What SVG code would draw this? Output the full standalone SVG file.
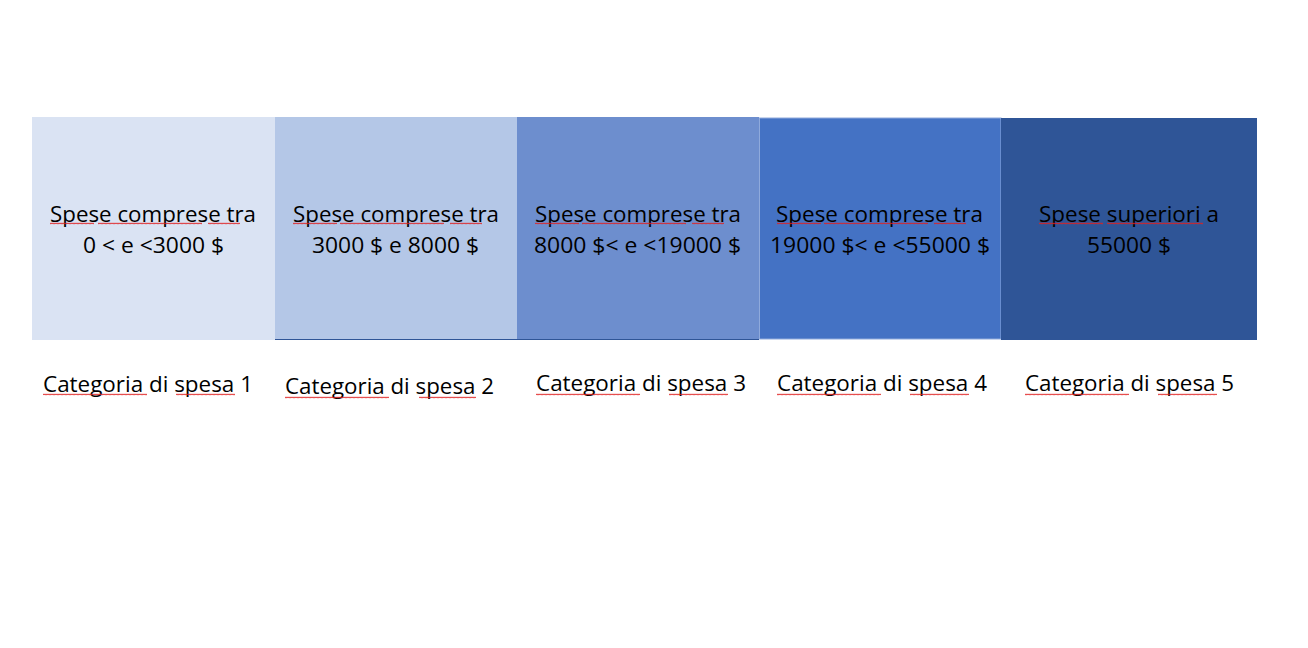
<svg xmlns="http://www.w3.org/2000/svg" width="1308" height="648" viewBox="0 0 1308 648">
  <style>
    .t { font-family: "Open Sans", "Noto Sans", "Liberation Sans", sans-serif; font-size: 22px; fill: #000; }
    .sq { fill: url(#wave); }
  </style>
  <defs>
    <pattern id="wave" patternUnits="userSpaceOnUse" x="0" y="0" width="4" height="3">
      <polyline points="0,2.2 1,0.8 2,2.2 3,0.8 4,2.2" fill="none" stroke="#e02020" stroke-width="0.8"/>
    </pattern>
  </defs>
  <rect width="1308" height="648" fill="#ffffff"/>

  <g id="box1">
    <rect x="32" y="117" width="243" height="223" fill="#DAE3F3"/>
    <text class="t" x="50" y="222" textLength="206" lengthAdjust="spacingAndGlyphs">Spese comprese tra</text>
    <text class="t" x="83" y="253" textLength="141" lengthAdjust="spacingAndGlyphs">0 &lt; e &lt;3000 $</text>
    <rect class="sq" x="50" y="222" width="44" height="3"/>
    <rect class="sq" x="98" y="222" width="104" height="3"/>
    <rect class="sq" x="208" y="222" width="32" height="3"/>
  </g>

  <g id="box2">
    <rect x="275" y="117" width="242" height="222" fill="#B4C7E7"/>
    <text class="t" x="293" y="222" textLength="206" lengthAdjust="spacingAndGlyphs">Spese comprese tra</text>
    <text class="t" x="312" y="253" textLength="167" lengthAdjust="spacingAndGlyphs">3000 $ e 8000 $</text>
    <rect class="sq" x="293" y="222" width="44" height="3"/>
    <rect class="sq" x="340" y="222" width="104" height="3"/>
    <rect class="sq" x="450" y="222" width="32" height="3"/>
  </g>

  <g id="box3">
    <rect x="517" y="117" width="242" height="222" fill="#6D8ECE"/>
    <text class="t" x="535" y="222" textLength="206" lengthAdjust="spacingAndGlyphs">Spese comprese tra</text>
    <text class="t" x="534" y="253" textLength="207" lengthAdjust="spacingAndGlyphs">8000 $&lt; e &lt;19000 $</text>
    <rect class="sq" x="535" y="222" width="44" height="3"/>
    <rect class="sq" x="582" y="222" width="104" height="3"/>
    <rect class="sq" x="692" y="222" width="32" height="3"/>
  </g>

  <line x1="275" y1="339.5" x2="759" y2="339.5" stroke="#2F5597" stroke-width="1.2"/>

  <g id="box4">
    <rect x="759.5" y="118" width="241.5" height="221" fill="#4472C4" stroke="#8FAADC" stroke-width="1"/>
    <text class="t" x="776" y="222" textLength="207" lengthAdjust="spacingAndGlyphs">Spese comprese tra</text>
    <text class="t" x="770" y="253" textLength="220" lengthAdjust="spacingAndGlyphs">19000 $&lt; e &lt;55000 $</text>
    <rect class="sq" x="777" y="222" width="44" height="3"/>
    <rect class="sq" x="824" y="222" width="104" height="3"/>
    <rect class="sq" x="934" y="222" width="32" height="3"/>
  </g>

  <g id="box5">
    <rect x="1001" y="118" width="256" height="222" fill="#2F5597"/>
    <text class="t" x="1039" y="222" textLength="180" lengthAdjust="spacingAndGlyphs">Spese superiori a</text>
    <text class="t" x="1087" y="253" textLength="84" lengthAdjust="spacingAndGlyphs">55000 $</text>
    <rect class="sq" x="1039" y="222" width="64" height="3"/>
    <rect class="sq" x="1107" y="222" width="96" height="3"/>
  </g>

  <g id="label1">
    <text class="t" x="43" y="392" textLength="210" lengthAdjust="spacingAndGlyphs">Categoria di spesa 1</text>
    <rect class="sq" x="43" y="393" width="104" height="3"/>
    <rect class="sq" x="176" y="393" width="59" height="3"/>
  </g>
  <g id="label2">
    <text class="t" x="285" y="394" textLength="209" lengthAdjust="spacingAndGlyphs">Categoria di spesa 2</text>
    <rect class="sq" x="285" y="396" width="104" height="3"/>
    <rect class="sq" x="419" y="396" width="57" height="3"/>
  </g>
  <g id="label3">
    <text class="t" x="536" y="391" textLength="210" lengthAdjust="spacingAndGlyphs">Categoria di spesa 3</text>
    <rect class="sq" x="536" y="393" width="104" height="3"/>
    <rect class="sq" x="669" y="393" width="59" height="3"/>
  </g>
  <g id="label4">
    <text class="t" x="777" y="391" textLength="210" lengthAdjust="spacingAndGlyphs">Categoria di spesa 4</text>
    <rect class="sq" x="777" y="393" width="104" height="3"/>
    <rect class="sq" x="910" y="393" width="59" height="3"/>
  </g>
  <g id="label5">
    <text class="t" x="1025" y="391" textLength="209" lengthAdjust="spacingAndGlyphs">Categoria di spesa 5</text>
    <rect class="sq" x="1025" y="393" width="104" height="3"/>
    <rect class="sq" x="1158" y="393" width="59" height="3"/>
  </g>
</svg>
